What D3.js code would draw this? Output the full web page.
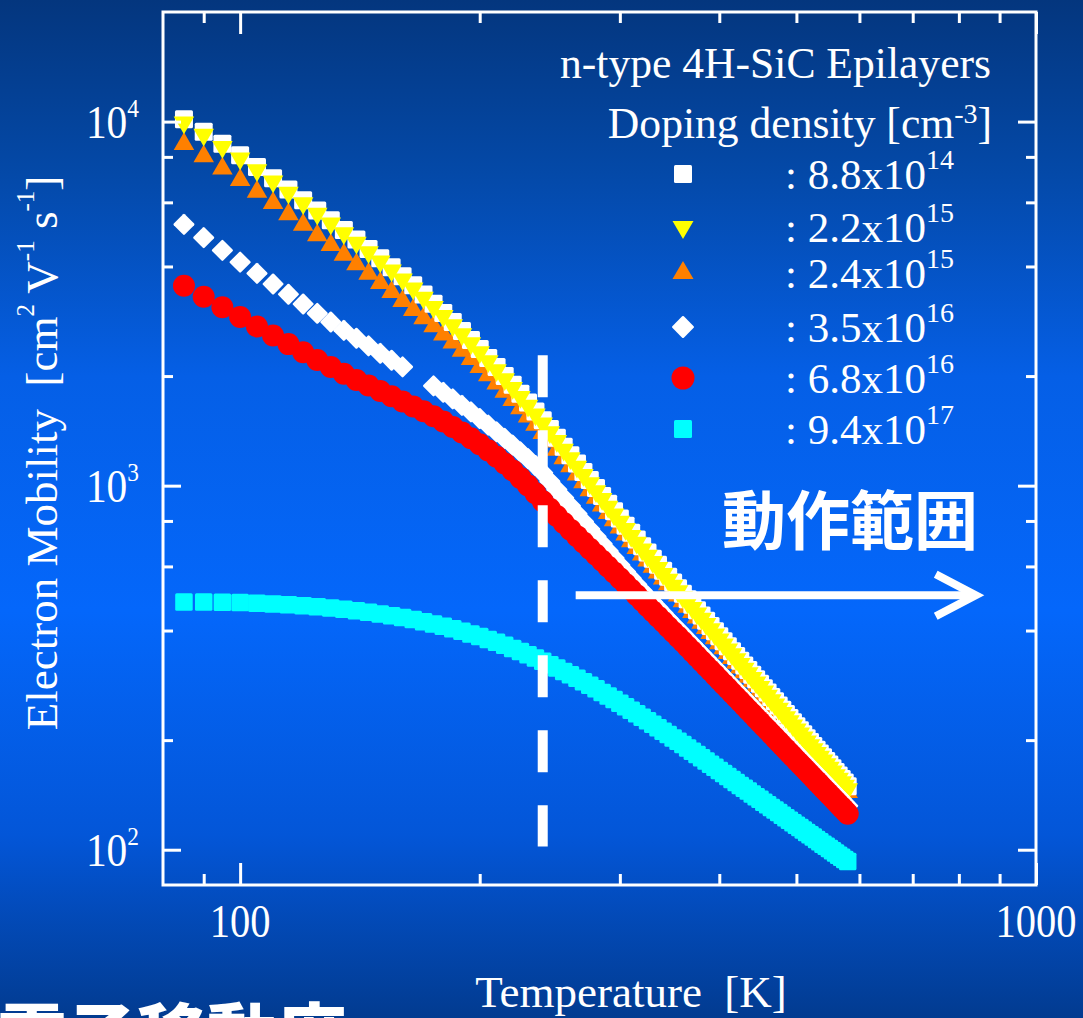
<!DOCTYPE html>
<html>
<head>
<meta charset="utf-8">
<script src="https://cdn.jsdelivr.net/npm/d3@7"></script>
<style>
  html, body { margin: 0; padding: 0; background: #0560e8; }
  svg { display: block; }
</style>
</head>
<body>
<svg id="chart" width="1083" height="1018"></svg>
<script>
// Temperature grid [K]
const temperatureK = [
  85, 90, 95, 100, 105, 110, 115, 120, 125, 130,
  135, 140, 145, 150, 155, 160, 165, 170, 175, 180,
  185, 190, 195, 200, 205, 210, 215, 220, 225, 230,
  235, 240, 245, 250, 255, 260, 265, 270, 275, 280,
  285, 290, 295, 300, 305, 310, 315, 320, 325, 330,
  335, 340, 345, 350, 355, 360, 365, 370, 375, 380,
  385, 390, 395, 400, 405, 410, 415, 420, 425, 430,
  435, 440, 445, 450, 455, 460, 465, 470, 475, 480,
  485, 490, 495, 500, 505, 510, 515, 520, 525, 530,
  535, 540, 545, 550, 555, 560, 565, 570, 575, 580
];

// Electron mobility [cm2 V-1 s-1], one array per doping density
const mu88e14 = [
  10150, 9384, 8690, 8078, 7507, 6987, 6508, 6084, 5702, 5356,
  5036, 4742, 4468, 4215, 3978, 3758, 3550, 3349, 3160, 2982,
  2816, 2659, 2511, 2373, 2241, 2118, 2001, 1892, 1788, 1691,
  1599, 1513, 1431, 1354, 1280, 1213, 1150, 1091, 1036, 985.3,
  937.4, 892.5, 850.7, 811.9, 776.2, 742.6, 710.9, 681.4, 655.0, 630.0,
  606.3, 583.7, 562.4, 542.1, 523.0, 504.6, 487.2, 470.5, 454.7, 439.6,
  425.2, 411.5, 398.3, 385.7, 373.6, 362.2, 351.1, 340.6, 330.5, 320.8,
  311.4, 302.5, 293.9, 285.6, 277.7, 270.1, 262.8, 255.6, 248.9, 242.3,
  235.9, 229.9, 224.0, 218.4, 212.9, 207.6, 202.5, 197.6, 192.8, 188.2,
  183.7, 179.4, 175.2, 171.3, 167.3, 163.5, 159.8, 156.4, 152.9, 149.5
];
const mu22e15 = [
  9950, 9200, 8520, 7920, 7360, 6850, 6380, 5965, 5590, 5251,
  4937, 4649, 4380, 4132, 3900, 3684, 3480, 3283, 3098, 2924,
  2761, 2607, 2462, 2326, 2197, 2076, 1962, 1855, 1753, 1658,
  1568, 1483, 1403, 1327, 1255, 1189, 1127, 1070, 1016, 966,
  919, 875, 834, 796, 761, 728, 697, 668, 642.1, 617.6,
  594.4, 572.3, 551.4, 531.5, 512.7, 494.7, 477.6, 461.3, 445.8, 431.0,
  416.9, 403.4, 390.5, 378.1, 366.3, 355.1, 344.2, 333.9, 324.0, 314.5,
  305.3, 296.6, 288.1, 280.0, 272.3, 264.8, 257.6, 250.6, 244.0, 237.5,
  231.3, 225.4, 219.6, 214.1, 208.7, 203.5, 198.5, 193.7, 189.0, 184.5,
  180.1, 175.9, 171.8, 167.9, 164.0, 160.3, 156.7, 153.3, 149.9, 146.6
];
const mu24e15 = [
  8676, 8022, 7429, 6906, 6418, 5973, 5563, 5201, 4874, 4579,
  4305, 4054, 3819, 3603, 3401, 3212, 3035, 2882, 2739, 2602,
  2471, 2346, 2228, 2117, 2008, 1906, 1809, 1718, 1630, 1549,
  1469, 1394, 1322, 1254, 1189, 1130, 1073, 1021, 971.3, 925.4,
  881.8, 840.9, 802.7, 767.3, 734.4, 703.2, 674.0, 646.6, 622.1, 598.8,
  576.7, 555.7, 535.7, 516.6, 498.6, 481.3, 464.9, 449.2, 434.3, 420.0,
  406.4, 393.4, 381.0, 369.0, 357.6, 346.7, 336.1, 326.2, 316.5, 307.3,
  298.4, 290.0, 281.7, 273.8, 266.4, 259.1, 252.1, 245.3, 238.9, 232.6,
  226.5, 220.8, 215.2, 209.8, 204.6, 199.5, 194.7, 190.0, 185.5, 181.1,
  176.8, 172.7, 168.7, 164.9, 161.0, 157.4, 153.9, 150.5, 147.2, 144.0
];
const mu35e16 = [
  5220, 4800, 4430, 4110, 3830, 3580, 3355, 3155, 2975, 2815,
  2670, 2540, 2420, 2310, 2210, 2120, null, null, 1880, 1805,
  1732, 1662, 1594, 1529, 1466, 1406, 1348, 1292, 1238, 1186,
  1136, 1085, 1028, 975, 925.8, 879.9, 837.0, 797.0, 759.6, 724.6,
  691.8, 661.0, 632.1, 604.9, 579.7, 556.7, 535.0, 514.3, 495.6, 478.3,
  461.6, 445.8, 430.5, 416.3, 403.5, 391.3, 379.2, 367.6, 356.5, 345.9,
  335.8, 326.1, 316.8, 307.8, 299.3, 291.0, 283.1, 275.4, 268.1, 261.0,
  254.2, 247.7, 241.3, 235.3, 229.3, 223.8, 218.3, 213.0, 208.0, 203.1,
  198.3, 193.7, 189.3, 185.0, 180.9, 176.8, 172.9, 169.2, 165.5, 162.0,
  158.6, 155.2, 152.0, 148.9, 145.8, 142.9, 140.1, 137.2, 134.5, 131.9
];
const mu68e16 = [
  3540, 3302, 3092, 2904, 2735, 2584, 2448, 2324, 2215, 2118,
  2030, 1950, 1883, 1820, 1761, 1703, 1650, 1600, 1551, 1501,
  1450, 1399, 1349, 1299, 1250, 1200, 1150, 1100, 1050, 1001,
  953, 906, 864, 825, 790, 757.1, 726.7, 698.1, 671.1, 645.7,
  621.6, 598.8, 577.2, 556.7, 536.8, 517.9, 500.0, 482.9, 466.7, 451.2,
  436.7, 422.6, 409.2, 396.5, 384.3, 372.7, 361.1, 350.1, 339.5, 329.4,
  319.8, 310.6, 301.7, 293.1, 285.0, 277.1, 269.6, 262.3, 255.3, 248.6,
  242.1, 235.9, 229.8, 224.1, 218.4, 213.1, 207.9, 202.9, 198.1, 193.4,
  188.9, 184.5, 180.3, 176.2, 172.3, 168.4, 164.7, 161.1, 157.6, 154.3,
  151.0, 147.8, 144.8, 141.8, 138.9, 136.1, 133.4, 130.7, 128.1, 125.6
];
const mu94e17 = [
  479.0, 479.0, 478.5, 477.3, 475.4, 473.2, 470.8, 468.0, 464.9, 461.4,
  457.6, 453.5, 449.1, 444.4, 439.4, 434.2, 428.6, 422.9, 416.9, 410.9,
  404.6, 398.1, 391.6, 384.9, 378.1, 371.2, 364.3, 357.3, 350.4, 343.4,
  336.3, 329.3, 322.3, 315.5, 308.8, 302.2, 295.6, 289.2, 282.9, 276.6,
  270.4, 264.4, 258.5, 252.7, 247.1, 241.6, 236.3, 231.1, 225.9, 221.0,
  216.3, 211.7, 207.2, 202.8, 198.6, 194.4, 190.4, 186.5, 182.6, 178.9,
  175.3, 171.8, 168.4, 165.1, 161.9, 158.8, 155.9, 153.0, 150.2, 147.5,
  144.9, 142.3, 139.9, 137.5, 135.1, 132.9, 130.7, 128.5, 126.5, 124.4,
  122.4, 120.5, 118.6, 116.8, 115.0, 113.2, 111.5, 109.9, 108.3, 106.7,
  105.1, 103.6, 102.2, 100.7, 99.3, 97.9, 96.6, 95.3, 94.0, 92.8
];

// Legend entries: mantissa and exponent of the doping density [cm-3]
const dopingMantissa = ["8.8", "2.2", "2.4", "3.5", "6.8", "9.4"];
const dopingExponent = ["14", "15", "15", "16", "16", "17"];

// Axis ticks
const xMajorTicks = [100, 1000];
const xMinorTicks = [90, 200, 300, 400, 500, 600, 700, 800, 900];
const yMajorTicks = [100, 1000, 10000];
const yMinorTicks = [200, 400, 600, 800, 2000, 4000, 6000, 8000];

// Operating range marker: boundary temperature and arrow span
const rangeStartK = 240;
const rangeLineMu = [2280, 102];
const arrowSpanK = [264, 840];
const arrowMu = 500;

const W = 1083, H = 1018;
const plot = { left: 163, right: 1036, top: 12, bottom: 885 };
const serif = "'Liberation Serif','Times New Roman',Times,serif";
const cjk = "'Noto Sans CJK JP','Noto Sans CJK SC',sans-serif";

const svg = d3.select("#chart");
const x = d3.scaleLog().domain([80, 1000]).range([plot.left, plot.right]);
const y = d3.scaleLog().domain([80, 20000]).range([plot.bottom, plot.top]);

// Background
const defs = svg.append("defs");
const grad = defs.append("linearGradient").attr("id", "bg")
  .attr("x1", 0).attr("y1", 0).attr("x2", 0).attr("y2", 1);
[[0, "#04367e"], [0.17, "#0449a8"], [0.37, "#055fe6"], [0.6, "#0467fb"],
 [0.82, "#0356d8"], [1, "#023b90"]].forEach(([o, c]) =>
  grad.append("stop").attr("offset", o).attr("stop-color", c));
svg.append("rect").attr("width", W).attr("height", H).attr("fill", "url(#bg)");

// Marker shapes
function drawMarker(sel, shape, color, s) {
  if (shape === "square") {
    sel.append("rect").attr("x", -s / 2).attr("y", -s / 2)
      .attr("width", s).attr("height", s).attr("rx", 1.5).attr("fill", color);
  } else if (shape === "diamond") {
    const a = s / Math.SQRT2;
    sel.append("rect").attr("x", -a / 2).attr("y", -a / 2)
      .attr("width", a).attr("height", a).attr("rx", 1.2)
      .attr("transform", "rotate(45)").attr("fill", color);
  } else if (shape === "circle") {
    sel.append("circle").attr("r", s / 2).attr("fill", color);
  } else {
    const area = Math.sqrt(3) / 4 * s * s;
    sel.append("path")
      .attr("d", d3.symbol(d3.symbolTriangle, area)())
      .attr("transform", shape === "triDown" ? "rotate(180)" : null)
      .attr("fill", color);
  }
}

const series = [
  { key: "mu24e15", values: mu24e15, shape: "triUp",   color: "#ff8000", size: 20.5, legend: 2 },
  { key: "mu88e14", values: mu88e14, shape: "square",  color: "#ffffff", size: 18,   legend: 0 },
  { key: "mu22e15", values: mu22e15, shape: "triDown", color: "#ffff00", size: 20.5, legend: 1 },
  { key: "mu35e16", values: mu35e16, shape: "diamond", color: "#ffffff", size: 22,   legend: 3 },
  { key: "mu68e16", values: mu68e16, shape: "circle",  color: "#ff0000", size: 22,   legend: 4 },
  { key: "mu94e17", values: mu94e17, shape: "square",  color: "#00ffff", size: 17.5, legend: 5 }
];

const marks = svg.append("g").attr("class", "marks");
series.forEach(sr => {
  const pts = temperatureK.map((t, i) => ({ t, v: sr.values[i] })).filter(d => d.v != null);
  marks.append("g").attr("class", sr.key)
    .selectAll("g").data(pts).join("g")
    .attr("transform", d => `translate(${x(d.t)},${y(d.v)})`)
    .each(function () { drawMarker(d3.select(this), sr.shape, sr.color, sr.size); });
});

// Frame and ticks
svg.append("rect")
  .attr("x", plot.left).attr("y", plot.top)
  .attr("width", plot.right - plot.left).attr("height", plot.bottom - plot.top)
  .attr("fill", "none").attr("stroke", "#fff").attr("stroke-width", 3);

function tickAxis(axisFn, scale, values, len, transform) {
  const g = svg.append("g").attr("transform", transform)
    .call(axisFn(scale).tickValues(values).tickSize(-len).tickFormat(""));
  g.select(".domain").remove();
  g.selectAll(".tick line").attr("stroke", "#fff").attr("stroke-width", 3);
}
tickAxis(d3.axisBottom, x, xMajorTicks, 22, `translate(0,${plot.bottom})`);
tickAxis(d3.axisBottom, x, xMinorTicks, 11, `translate(0,${plot.bottom})`);
tickAxis(d3.axisTop, x, xMajorTicks, 22, `translate(0,${plot.top})`);
tickAxis(d3.axisTop, x, xMinorTicks, 11, `translate(0,${plot.top})`);
tickAxis(d3.axisLeft, y, yMajorTicks, 18, `translate(${plot.left},0)`);
tickAxis(d3.axisLeft, y, yMinorTicks, 10, `translate(${plot.left},0)`);
tickAxis(d3.axisRight, y, yMajorTicks, 18, `translate(${plot.right},0)`);
tickAxis(d3.axisRight, y, yMinorTicks, 10, `translate(${plot.right},0)`);

// Tick labels
svg.append("g").selectAll("text").data(xMajorTicks).join("text")
  .attr("transform", d => `translate(${x(d)},937) scale(0.88,1)`)
  .attr("text-anchor", "middle").attr("font-family", serif)
  .attr("font-size", 46).attr("fill", "#fff").text(d => d);

const yl = svg.append("g").selectAll("text").data(yMajorTicks).join("text")
  .attr("transform", d => `translate(139,${y(d) + 16}) scale(0.9,1)`)
  .attr("text-anchor", "end").attr("font-family", serif)
  .attr("font-size", 46).attr("fill", "#fff");
yl.append("tspan").text("10");
yl.append("tspan").attr("dy", -21).attr("font-size", 26).text(d => Math.round(Math.log10(d)));

// Axis titles
svg.append("text")
  .attr("x", 631).attr("y", 1007).attr("text-anchor", "middle")
  .attr("font-family", serif).attr("font-size", 45).attr("fill", "#fff")
  .style("white-space", "pre").text("Temperature  [K]");

const yt = svg.append("text")
  .attr("transform", "translate(57,453) rotate(-90)")
  .attr("text-anchor", "middle").attr("font-family", serif)
  .attr("font-size", 45).attr("fill", "#fff").style("white-space", "pre");
[["Electron Mobility  [cm", 0], ["2", 1], [" V", 0], ["-1", 1], [" s", 0], ["-1", 1], ["]", 0]]
  .forEach(([t, sup], i, arr) => {
    const prevSup = i > 0 && arr[i - 1][1];
    const ts = yt.append("tspan").text(t);
    if (sup) ts.attr("dy", -23).attr("font-size", 25);
    else if (prevSup) ts.attr("dy", 23);
  });

// Legend
const legendX = 683;
const legendRowY = [174, 227, 273, 327, 378, 429];
const legendTextX = 785;

svg.append("text").attr("x", 991).attr("y", 78).attr("text-anchor", "end")
  .attr("font-family", serif).attr("font-size", 43.6).attr("fill", "#fff")
  .text("n-type 4H-SiC Epilayers");
const dd = svg.append("text").attr("x", 992).attr("y", 138).attr("text-anchor", "end")
  .attr("font-family", serif).attr("font-size", 43.6).attr("fill", "#fff");
dd.append("tspan").text("Doping density [cm");
dd.append("tspan").attr("dy", -15).attr("font-size", 28).text("-3");
dd.append("tspan").attr("dy", 15).text("]");

const legendSeries = series.slice().sort((a, b) => a.legend - b.legend);
const legendSize = { square: 18, triDown: 21, triUp: 21, diamond: 23, circle: 23 };
legendSeries.forEach((sr, i) => {
  const g = svg.append("g").attr("transform", `translate(${legendX},${legendRowY[i]})`);
  drawMarker(g, sr.shape, sr.color, legendSize[sr.shape]);
  const t = svg.append("text").attr("x", legendTextX).attr("y", legendRowY[i] + 15)
    .attr("font-family", serif).attr("font-size", 43).attr("fill", "#fff")
    .style("white-space", "pre");
  t.append("tspan").text(`: ${dopingMantissa[i]}x10`);
  t.append("tspan").attr("dy", -20).attr("font-size", 28).text(dopingExponent[i]);
});

// Operating range: dashed boundary and arrow
svg.append("line")
  .attr("x1", x(rangeStartK)).attr("x2", x(rangeStartK))
  .attr("y1", y(rangeLineMu[0])).attr("y2", y(rangeLineMu[1]))
  .attr("stroke", "#fff").attr("stroke-width", 10).attr("stroke-dasharray", "42 33");

const ay = y(arrowMu);
const ax0 = x(arrowSpanK[0]), ax1 = x(arrowSpanK[1]);
svg.append("line").attr("x1", ax0).attr("x2", ax1 - 4).attr("y1", ay).attr("y2", ay)
  .attr("stroke", "#fff").attr("stroke-width", 8);
svg.append("path")
  .attr("d", `M${ax1 - 40},${ay - 21} L${ax1},${ay} L${ax1 - 40},${ay + 21}`)
  .attr("fill", "none").attr("stroke", "#fff").attr("stroke-width", 8)
  .attr("stroke-linejoin", "miter");

svg.append("text").attr("x", 850).attr("y", 544).attr("text-anchor", "middle")
  .attr("font-family", cjk).attr("font-weight", 700).attr("font-size", 64)
  .attr("fill", "#fff").text("動作範囲");

// Slide caption continuing below the chart
svg.append("text").attr("x", -3).attr("y", 1062)
  .attr("font-family", cjk).attr("font-weight", 900).attr("font-size", 70)
  .attr("fill", "#fff").text("電子移動度");
</script>
</body>
</html>
